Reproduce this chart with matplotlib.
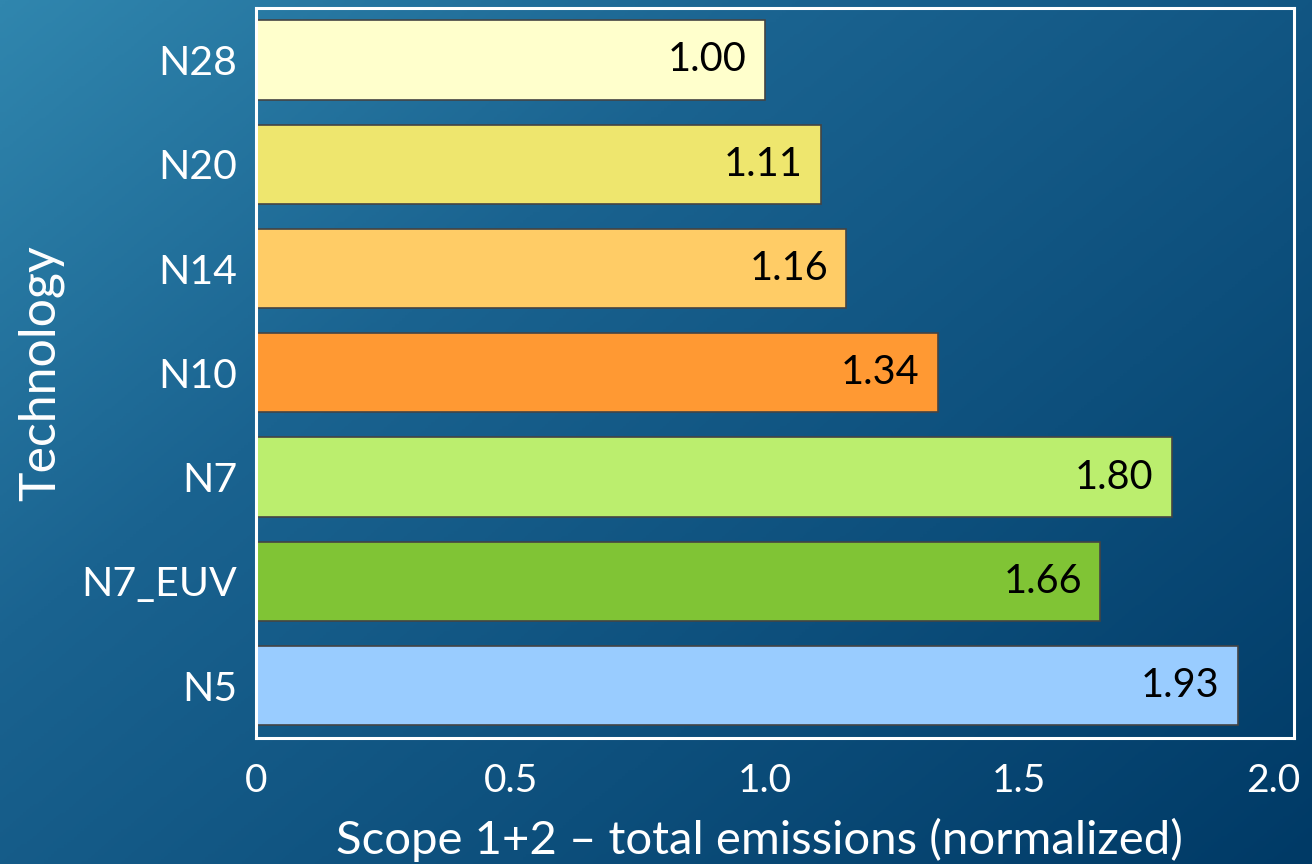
import numpy as np
import matplotlib.pyplot as plt
from matplotlib.colors import LinearSegmentedColormap

plt.rcParams['font.family'] = ['Lato', 'DejaVu Sans']

techs = ['N28', 'N20', 'N14', 'N10', 'N7', 'N7_EUV', 'N5']
emissions = [1.00, 1.11, 1.16, 1.34, 1.80, 1.66, 1.93]
bar_colors = ['#FFFFCC', '#EEE66E', '#FFCC66', '#FF9933', '#BBEE6E', '#80C435', '#99CCFF']
xticks = [0, 0.5, 1.0, 1.5, 2.0]
xtick_labels = ['0', '0.5', '1.0', '1.5', '2.0']

fig = plt.figure(figsize=(13.12, 8.64), dpi=100)

# diagonal blue background, light at top-left, navy at bottom-right
bg = fig.add_axes([0, 0, 1, 1], zorder=0)
gx, gy = np.meshgrid(np.linspace(0, 1, 400), np.linspace(0, 1, 300))
grad = (gx * 0.55 + gy * 0.45)
cmap = LinearSegmentedColormap.from_list('bg', ['#3086ae', '#1a6390', '#0d4f7c', '#003a66'])
bg.imshow(grad, cmap=cmap, aspect='auto', extent=[0, 1, 0, 1], origin='upper')
bg.axis('off')

ax = fig.add_axes([0.1955, 0.146, 0.7905, 0.845], zorder=1)
ax.patch.set_alpha(0)

y = np.arange(len(techs))
bars = ax.barh(y, emissions, height=0.76, color=bar_colors, edgecolor='#444444', linewidth=1.2)
for yi, v in zip(y, emissions):
    ax.annotate(f'{v:.2f}', xy=(v, yi), xytext=(-13, 0), textcoords='offset points',
                ha='right', va='center', fontsize=28.5, color='black')

ax.set_ylim(6.5, -0.5)
ax.set_xlim(0, 2.04)
ax.set_yticks(y)
ax.set_yticklabels(techs)
ax.set_xticks(xticks)
ax.set_xticklabels(xtick_labels)
ax.tick_params(axis='both', length=0, labelsize=28, colors='white')
ax.tick_params(axis='y', labelsize=29.5, pad=14)
ax.tick_params(axis='x', pad=18)
for s in ax.spines.values():
    s.set_color('white')
    s.set_linewidth(2.2)

ax.set_xlabel('Scope 1+2 – total emissions (normalized)', fontsize=34, color='white', labelpad=14)
ax.xaxis.label.set_x(0.485)
ax.set_ylabel('Technology', fontsize=36, color='white', labelpad=12)

fig.savefig('out.png', dpi=100)
